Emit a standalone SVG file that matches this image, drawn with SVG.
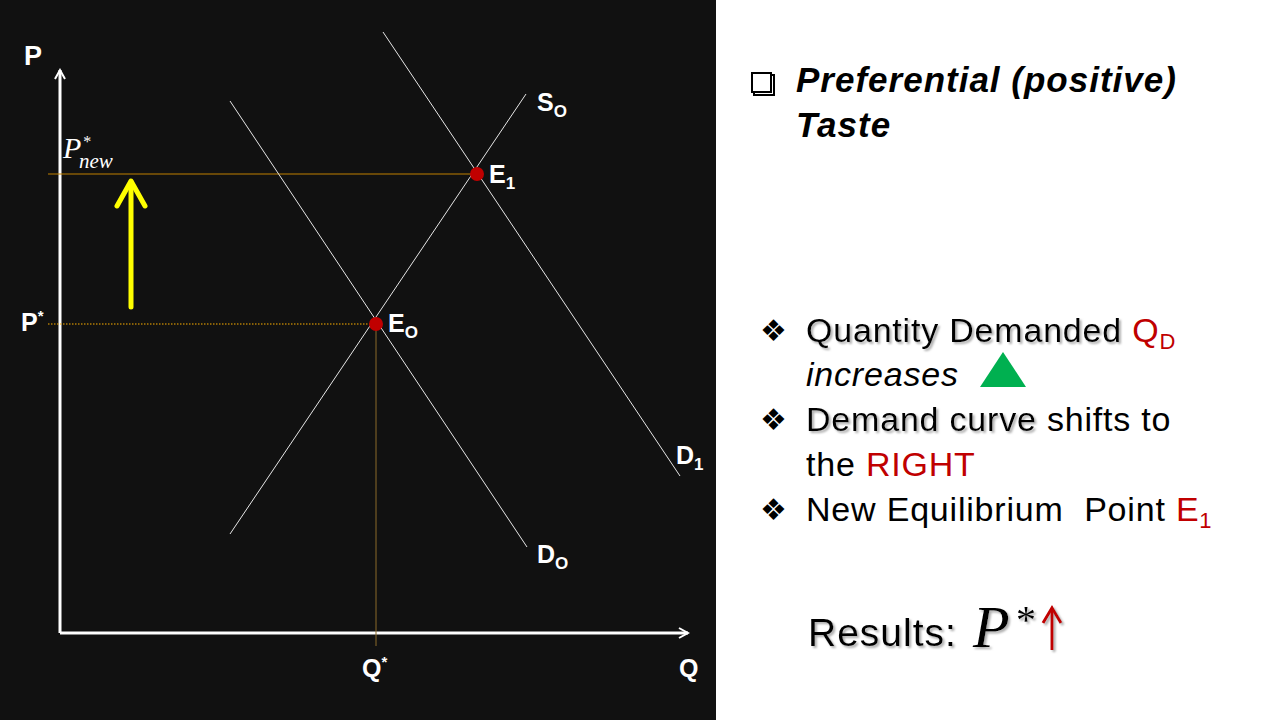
<svg xmlns="http://www.w3.org/2000/svg" width="1280" height="720" viewBox="0 0 1280 720">
<defs>
<style>
.lab{font-family:"Liberation Sans",Arial,sans-serif;font-weight:bold;fill:#fff;font-size:25px}
.sub{font-size:17px}
.curve{stroke:#e6e6e6;stroke-width:1;fill:none}
.txt{font-family:"Liberation Sans",Arial,sans-serif;font-size:34px;letter-spacing:0.8px;fill:#000}
.ttl{font-family:"Liberation Sans",Arial,sans-serif;font-size:35px;letter-spacing:1px;font-weight:bold;font-style:italic;fill:#000}
.res{font-family:"Liberation Sans",Arial,sans-serif;font-size:39px;letter-spacing:1px;fill:#000}
.red{fill:#c00000}
.sh{filter:url(#shadow)}
.dia{font-family:"DejaVu Sans",sans-serif;font-size:30px;fill:#000}
.math{font-family:"Liberation Serif","DejaVu Serif",serif}
</style>
<filter id="shadow" x="-5%" y="-20%" width="110%" height="150%">
<feDropShadow dx="2" dy="2" stdDeviation="1" flood-color="#999" flood-opacity="0.8"/>
</filter>
<marker id="ah" viewBox="0 0 12 12" refX="10" refY="6" markerWidth="12" markerHeight="12" markerUnits="userSpaceOnUse" orient="auto">
<path d="M1,1 L10,6 L1,11" fill="none" stroke="#fff" stroke-width="2"/>
</marker>
</defs>
<rect x="0" y="0" width="1280" height="720" fill="#fff"/>
<rect x="0" y="0" width="716" height="720" fill="#111"/>

<g id="connectors">
<line x1="60" y1="633" x2="60" y2="70" stroke="#fff" stroke-width="3" marker-end="url(#ah)"/>
<line x1="60" y1="633" x2="688" y2="633" stroke="#fff" stroke-width="3" marker-end="url(#ah)"/>
<line x1="48" y1="174" x2="477" y2="174" stroke="#c08000" stroke-width="1"/>
<line x1="48" y1="324" x2="376" y2="324" stroke="#ffb000" stroke-width="1" stroke-dasharray="1.5,1.5"/>
<line x1="376" y1="324" x2="376" y2="646" stroke="#8b6b2a" stroke-width="1"/>
<line id="S0" class="curve" x1="230" y1="534" x2="526" y2="94"/>
<line id="D0" class="curve" x1="230" y1="101" x2="527" y2="547"/>
<line id="D1" class="curve" x1="383" y1="32" x2="680" y2="476"/>
<g id="yellow-arrow" stroke="#ffff00" stroke-width="5" stroke-linecap="round" fill="none">
<line x1="131" y1="307" x2="131" y2="182"/>
<path d="M117,206 L131,181 L145,206" stroke-linejoin="round"/>
</g>
</g>

<g id="E0"><circle cx="376" cy="324" r="7" fill="#c00000"/><text class="lab" x="388" y="332">E<tspan class="sub" dy="6">O</tspan></text></g>
<g id="E1"><circle cx="477" cy="174" r="7" fill="#c00000"/><text class="lab" x="489" y="183">E<tspan class="sub" dy="6">1</tspan></text></g>

<g id="labels">
<text class="lab" x="24" y="65" style="font-size:27px">P</text>
<text class="lab" x="21" y="331">P<tspan font-size="15" dy="-10">*</tspan></text>
<text class="math" x="63" y="158" fill="#fff"><tspan font-style="italic" font-size="30">P</tspan><tspan font-size="16" dx="2" dy="-11">*</tspan><tspan font-style="italic" font-size="21" x="79" dy="21">new</tspan></text>
<text class="lab" x="537" y="111">S<tspan class="sub" dy="6">O</tspan></text>
<text class="lab" x="676" y="464">D<tspan class="sub" dy="6">1</tspan></text>
<text class="lab" x="537" y="563">D<tspan class="sub" dy="6">O</tspan></text>
<text class="lab" x="362" y="677">Q<tspan font-size="15" dy="-10">*</tspan></text>
<text class="lab" x="679" y="677">Q</text>
</g>

<g id="title">
<rect x="752" y="73" width="19" height="19" fill="none" stroke="#000" stroke-width="2"/>
<path d="M771,75 L774,75 L774,95 L754,95 L754,92" fill="none" stroke="#000" stroke-width="2"/>
<text class="ttl" x="796" y="92">Preferential (positive)</text>
<text class="ttl" x="796" y="137">Taste</text>
</g>

<g id="bullets">
<text class="dia" x="760" y="341">❖</text>
<text class="txt" x="806" y="342"><tspan class="sh">Quantity Demanded</tspan> <tspan class="red">Q</tspan><tspan class="red" font-size="22" dy="7">D</tspan></text>
<text class="txt" x="806" y="386" style="font-style:italic">increases</text>
<polygon points="980,387 1026,387 1003,352" fill="#00b050"/>
<text class="dia" x="760" y="430">❖</text>
<text class="txt" x="806" y="431"><tspan class="sh">Demand curve</tspan> shifts to</text>
<text class="txt" x="806" y="476">the <tspan class="red">RIGHT</tspan></text>
<text class="dia" x="760" y="520">❖</text>
<text class="txt" x="806" y="521" xml:space="preserve">New Equilibrium  Point <tspan class="red">E</tspan><tspan class="red" font-size="22" dy="7">1</tspan></text>
</g>

<g id="results" class="sh">
<text class="res" x="808" y="646">Results:</text>
<text class="math" x="973" y="647" font-style="italic" font-size="60" fill="#000">P</text>
<text class="math" x="1016" y="633" font-size="40" fill="#000">*</text>
<g stroke="#c00000" stroke-width="3" fill="none">
<line x1="1052" y1="650" x2="1052" y2="610"/>
<path d="M1043,623 L1052,608 L1061,623"/>
</g>
</g>
</svg>
